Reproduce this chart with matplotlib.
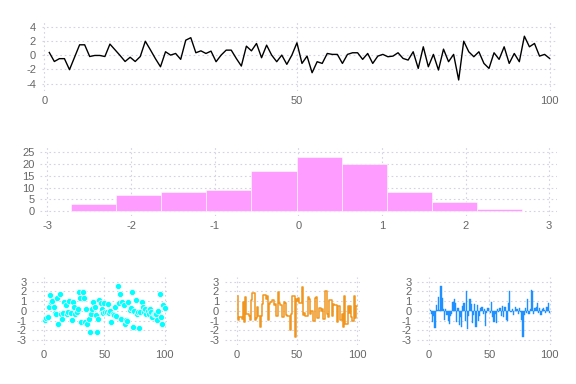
import matplotlib
matplotlib.use("Agg")
import matplotlib.pyplot as plt
import numpy as np

# top line (x = 1..100)
line_y = [0.37, -0.9, -0.5, -0.5, -2.05, -0.3, 1.45, 1.45, -0.2, -0.05,
          -0.05, -0.2, 1.55, 0.75, -0.05, -0.9, -0.3, -0.9, -0.2, 1.95,
          0.75, -0.5, -1.64, 0.47, 0.0, 0.23, -0.6, 2.1, 2.45, 0.33,
          0.6, 0.23, 0.56, -0.93, 0.0, 0.7, 0.7, -0.47, -1.54, 1.26,
          0.6, 1.64, -0.37, 1.4, 0.0, -0.93, 0.0, -1.3, 0.0, 1.73,
          -1.17, -0.14, -2.48, -0.93, -1.17, 0.23, 0.1, 0.1, -1.17, 0.1,
          0.33, 0.33, -0.6, 0.23, -1.17, -0.14, 0.1, -0.23, -0.14, 0.33,
          -0.47, -0.7, 0.47, -1.87, 1.17, -1.64, 0.1, -2.1, 0.84, -0.93,
          0.1, -3.5, 1.96, 0.47, -0.23, 0.47, -1.17, -1.87, 0.33, -0.6,
          1.17, -1.17, 0.23, -0.93, 2.66, 1.17, 1.64, -0.14, 0.1, -0.47]

# histogram
hist_edges = [-2.72, -2.18, -1.64, -1.10, -0.56, -0.02, 0.52, 1.06, 1.60, 2.14, 2.68]
hist_counts = [3, 7, 8, 9, 17, 23, 20, 8, 4, 1]

# scatter (x = 1..100)
scatter_y = [-0.97, -0.7, -0.6, 0.35, 1.6, 0.93, 1.0, 0.4, -0.2, -0.3,
             1.28, -1.38, 1.72, -0.28, -0.8, -0.2, 0.86, 0.59, -0.28, -0.17,
             1.0, -0.2, -0.97, 0.93, 0.41, -0.28, -0.1, 0.14, 1.97, 1.28,
             -1.14, 1.97, 1.28, -1.14, 0.2, -1.31, -0.8, -2.17, -0.28, 0.24,
             0.93, 0.41, -0.45, -2.17, -0.86, 1.1, 0.83, 0.14, -0.2, 0.76,
             -0.1, -0.1, 0.66, -0.2, 0.0, -1.14, -0.3, -0.45, 0.41, -0.5,
             2.55, 0.8, 1.69, -0.8, 0.86, 0.6, -1.31, -0.9, -1.07, 0.93,
             0.07, 0.3, 1.97, -1.66, -0.03, 1.1, -0.28, -0.1, -1.72, -0.1,
             0.93, 0.41, -0.1, 0.24, -0.28, 0.0, -0.28, 0.24, -0.1, -0.62,
             -0.3, -0.28, -0.28, -0.9, 0.0, 1.69, -0.62, -1.38, 0.59, 0.31]

# step (x = 1..100)
step_y = [1.5, -0.9, -0.6, -0.6, -0.8, 0.9, -1.1, 1.4, -0.3, -0.3,
          -0.5, -0.9, 1.1, 1.8, 1.8, -0.9, -0.7, 0.4, -0.5, -1.7,
          -0.5, 0.7, 1.6, 1.6, 1.2, 1.5, -0.9, 0.7, 0.9, 1.1,
          1.1, 0.6, 0.7, -0.5, 1.9, 0.8, 0.6, 0.6, -0.6, 0.9,
          0.8, -0.4, -0.5, -0.5, -2.0, -0.3, 1.5, 1.5, -2.7, 1.2,
          1.0, 1.3, 0.8, 0.8, 2.5, -0.4, -0.2, -0.5, -0.5, 1.4,
          1.2, -0.3, 0.0, -1.0, -1.0, 1.3, 1.4, -0.7, 0.3, 0.3,
          0.0, 0.2, -0.8, 2.0, 2.0, -0.3, -0.6, 1.1, 1.1, -0.5,
          0.7, 0.6, 0.6, -1.2, 0.5, 0.5, -0.9, -0.3, -1.7, 1.5,
          -1.4, -1.4, 0.5, -0.2, 0.5, -0.6, -1.0, 1.5, -0.7, 0.5]

# bars (x = 1..100)
bar_y = [0.1, -0.3, -1.1, -0.5, -1.8, 0.6, 0.1, 1.4, 0.1, 2.6,
         1.3, 0.2, -0.9, 0.2, -0.4, -1.0, -1.4, -0.5, -0.3, 0.9,
         1.2, 0.8, -1.1, 0.3, -1.5, -0.6, -1.7, 0.5, 0.8, -1.0,
         2.0, -1.9, -0.5, 1.2, 0.7, -1.3, -0.4, 0.7, -1.7, 0.6,
         -1.0, -0.5, 0.3, 0.4, -0.3, 0.2, -1.6, -0.2, 0.3, 0.0,
         -0.2, 0.9, -0.6, -1.2, -0.3, -1.3, 0.2, -0.1, 0.3, -0.5,
         0.5, -0.6, 0.4, -0.9, -1.0, 0.8, 2.0, -0.1, 0.2, -0.4,
         0.0, 0.4, 0.2, -0.3, 0.3, -0.1, -0.9, -2.7, -0.4, 0.3,
         -0.2, 1.2, -0.3, 0.2, 2.1, 2.0, -0.3, 0.3, 0.4, 0.8,
         -0.2, 0.3, -0.4, 0.2, 0.3, 0.1, -0.2, 0.4, 0.8, -0.2]

plt.rcParams['font.family'] = ['Liberation Sans', 'DejaVu Sans']
plt.rcParams['font.size'] = 8
plt.rcParams['axes.unicode_minus'] = False

fig = plt.figure(figsize=(5.76, 3.84), dpi=100)


def style(ax):
    for s in ax.spines.values():
        s.set_visible(False)
    ax.grid(True, color='#d6d2e4', linestyle=(0, (1.5, 2.5)), linewidth=0.8)
    ax.set_axisbelow(True)
    ax.tick_params(length=0, colors='#666666', labelcolor='#666666', pad=4)


# top line
ax1 = fig.add_axes([0.0724, 0.764, 0.895, 0.185])
style(ax1)
ax1.plot(np.arange(1, 101), line_y, color='black', lw=1)
ax1.set_xlim(-0.5, 101.5)
ax1.set_ylim(-5, 5)
ax1.set_xticks([0, 50, 100])
ax1.set_yticks([-4, -2, 0, 2, 4])

# histogram
ax2 = fig.add_axes([0.0694, 0.438, 0.897, 0.184])
style(ax2)
ax2.bar(hist_edges[:-1], hist_counts, width=np.diff(hist_edges), align='edge',
        color='#ff9cff', edgecolor='white', linewidth=0.4)
ax2.set_xlim(-3.09, 3.09)
ax2.set_ylim(-2, 28)
ax2.set_xticks([-3, -2, -1, 0, 1, 2, 3])
ax2.set_yticks([0, 5, 10, 15, 20, 25])

# bottom row
xs = np.arange(1, 101)
lefts = [44, 236.7, 429]
axes_b = []
for lx in lefts:
    x0 = lx - 10 * 1.205
    ax = fig.add_axes([x0 / 576, 0.102, 112 * 1.205 / 576, 0.177])
    style(ax)
    ax.set_xlim(-10, 102)
    ax.set_ylim(-3.5, 3.5)
    ax.set_xticks([0, 50, 100])
    ax.set_yticks([-3, -2, -1, 0, 1, 2, 3])
    axes_b.append(ax)

axes_b[0].scatter(xs, scatter_y, s=19, color='#00ffff', edgecolor='white',
                  linewidth=0.5, clip_on=False, zorder=3)
axes_b[1].step(xs, step_y, color='#f0961f', lw=1.1)
axes_b[2].bar(xs, bar_y, width=1.0, color='#1e90ff', edgecolor='#1e90ff',
              linewidth=0.3)

fig.savefig('out.png', dpi=100)
